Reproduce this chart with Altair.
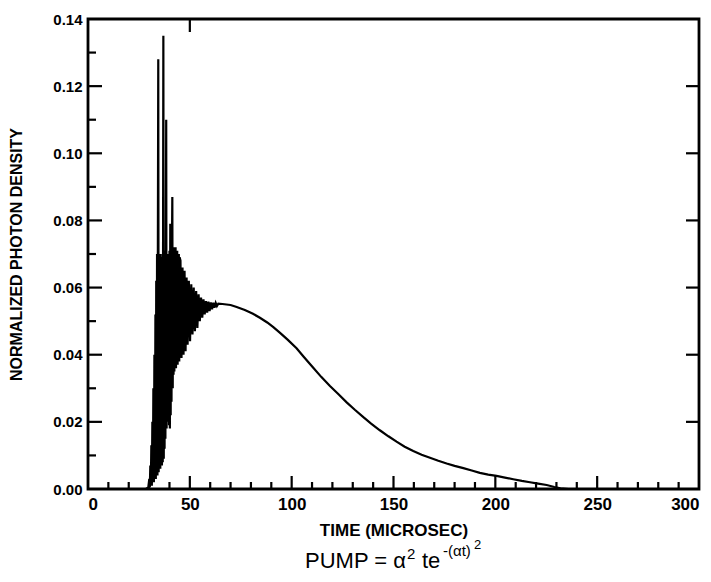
import altair as alt
import pandas as pd

# ---- data ----
time_us = [
    0.0, 28.5, 29.6, 30.1, 30.35, 30.6, 30.85, 31.1, 31.35, 31.6, 31.85, 32.1, 32.35, 32.6, 32.85,
    33.1, 33.3, 33.5, 33.7, 33.9, 34.1, 34.3, 34.5, 34.7, 34.9, 35.1, 35.3, 35.5, 35.7, 35.9,
    36.1, 36.3, 36.5, 36.7, 37.0, 37.2, 37.4, 37.6, 37.8, 38.0, 38.2, 38.4, 38.6, 38.8, 39.0,
    39.2, 39.4, 39.6, 39.8, 40.0, 40.2, 40.4, 40.6, 40.8, 41.0, 41.2, 41.4, 41.6, 41.8, 42.0,
    42.2, 42.4, 42.6, 42.8, 43.0, 43.2, 43.4, 43.6, 43.8, 44.0, 44.2, 44.4, 44.6, 44.8, 45.0,
    45.4, 45.9, 46.4, 46.9, 47.4, 47.9, 48.4, 48.9, 49.5, 50.1, 50.7, 51.3, 51.9, 52.5, 53.1,
    53.7, 54.3, 54.9, 55.5, 56.1, 56.7, 57.3, 57.9, 58.5, 59.1, 59.7, 60.3, 60.9, 61.5, 62.1,
    62.7, 63.3, 64.0, 66.0, 70.0, 73.0, 77.0, 81.0, 84.4, 88.0, 91.0, 94.3, 98.0, 102.4,
    106.0, 110.6, 114.5, 118.8, 123.0, 127.0, 131.0, 135.2, 139.0, 143.3, 147.5, 151.5,
    155.5, 159.7, 163.8, 167.9, 172.0, 176.1, 180.0, 184.3, 188.4, 192.4, 196.5, 200.6,
    204.7, 208.8, 213.0, 217.0, 221.0, 225.2, 229.0, 232.0, 236.0, 300.0,
]
density = [
    0.0, 0.0, 0.0005, 0.003, 0.0005, 0.007, 0.001, 0.013, 0.001, 0.020, 0.002, 0.030, 0.002, 0.040, 0.003,
    0.052, 0.003, 0.062, 0.004, 0.070, 0.004, 0.071, 0.128, 0.005, 0.070, 0.006, 0.069, 0.006, 0.070, 0.007,
    0.068, 0.007, 0.069, 0.008, 0.135, 0.009, 0.070, 0.012, 0.071, 0.015, 0.069, 0.110, 0.018, 0.070, 0.020,
    0.069, 0.021, 0.070, 0.019, 0.071, 0.018, 0.079, 0.022, 0.070, 0.026, 0.071, 0.087, 0.030, 0.070, 0.034,
    0.072, 0.035, 0.070, 0.036, 0.072, 0.036, 0.070, 0.037, 0.071, 0.037, 0.069, 0.038, 0.070, 0.038, 0.069,
    0.068, 0.039, 0.066, 0.040, 0.065, 0.041, 0.063, 0.043, 0.062, 0.044, 0.061, 0.046, 0.060, 0.047, 0.059,
    0.048, 0.058, 0.050, 0.057, 0.051, 0.0565, 0.052, 0.056, 0.0525, 0.0558, 0.053, 0.0556, 0.0535, 0.0555, 0.054,
    0.0554, 0.0545, 0.0552, 0.0551, 0.0548, 0.0542, 0.0533, 0.0522, 0.0510, 0.0496, 0.0482, 0.0465, 0.0445, 0.0419,
    0.0393, 0.0361, 0.0334, 0.0307, 0.0282, 0.0258, 0.0236, 0.0214, 0.0195, 0.0175, 0.0157, 0.0141,
    0.0126, 0.0113, 0.0102, 0.0093, 0.0084, 0.0076, 0.0069, 0.0062, 0.0055, 0.0048, 0.0043, 0.0039,
    0.0034, 0.0029, 0.0024, 0.0020, 0.0016, 0.0012, 0.0006, 0.0002, 0.0, 0.0,
]

x_labels = [0, 50, 100, 150, 200, 250, 300]
y_labels = [0.00, 0.02, 0.04, 0.06, 0.08, 0.10, 0.12, 0.14]
bottom_major = [50, 100, 150, 200, 250]
bottom_minor = [10, 20, 30, 40, 60, 70, 80, 90, 110, 120, 130, 140, 160, 170, 180, 190,
                210, 220, 230, 240, 260, 270, 280, 290]
left_major = [0.02, 0.04, 0.06, 0.08, 0.10, 0.12]
left_minor = [0.01, 0.03, 0.05, 0.07, 0.09, 0.11, 0.13]
right_major = [0.02, 0.04, 0.06, 0.08, 0.10, 0.12]
top_ticks = [50]

x_title = "TIME (MICROSEC)"
y_title = "NORMALIZED PHOTON DENSITY"
formula_parts = ["PUMP = α", "2", "te", "-(αt)", "2"]

W, H = 611, 470
FONT = "Liberation Sans"

xs = alt.Scale(domain=[0, 300], nice=False, zero=False)
ys = alt.Scale(domain=[0, 0.14], nice=False, zero=False)

curve_df = pd.DataFrame({"t": time_us, "n": density, "i": range(len(time_us))})

curve = alt.Chart(curve_df).mark_line(color="black", strokeWidth=2.2, strokeJoin="miter").encode(
    x=alt.X("t:Q", scale=xs, axis=alt.Axis(
        values=x_labels, format="d", ticks=False, tickSize=0, domain=False, grid=False,
        labelFont=FONT, labelFontSize=17, labelFontWeight="bold", labelColor="black",
        labelPadding=7, title=x_title, titleFont=FONT, titleFontSize=17, titleFontWeight="bold",
        titleColor="black", titleX=W / 2, titleY=41, titleBaseline="middle", titleAlign="center")),
    y=alt.Y("n:Q", scale=ys, axis=alt.Axis(
        values=y_labels, format=".2f", ticks=False, tickSize=0, domain=False, grid=False,
        labelFont=FONT, labelFontSize=15, labelFontWeight="bold", labelColor="black",
        labelPadding=6, title=y_title, titleFont=FONT, titleFontSize=16, titleFontWeight="bold",
        titleColor="black", titleX=-72, titleY=H / 2, titleAngle=270, titleBaseline="middle",
        titleAlign="center")),
    order="i:O",
)

TW = 2.2

def xticks(vals, length):
    return alt.Chart(pd.DataFrame({"v": vals})).mark_rule(color="black", strokeWidth=TW).encode(
        x=alt.X("v:Q", scale=xs), y=alt.value(H), y2=alt.value(H - length))

def topticks(vals, length):
    return alt.Chart(pd.DataFrame({"v": vals})).mark_rule(color="black", strokeWidth=TW).encode(
        x=alt.X("v:Q", scale=xs), y=alt.value(0), y2=alt.value(length))

def lticks(vals, length):
    return alt.Chart(pd.DataFrame({"v": vals})).mark_rule(color="black", strokeWidth=TW).encode(
        y=alt.Y("v:Q", scale=ys), x=alt.value(0), x2=alt.value(length))

def rticks(vals, length):
    return alt.Chart(pd.DataFrame({"v": vals})).mark_rule(color="black", strokeWidth=TW).encode(
        y=alt.Y("v:Q", scale=ys), x=alt.value(W), x2=alt.value(W - length))

def ftext(s, px, py, size, weight="normal"):
    return alt.Chart(pd.DataFrame({"s": [s]})).mark_text(
        font=FONT, fontSize=size, fontWeight=weight, color="black", align="left",
        baseline="alphabetic").encode(text="s:N", x=alt.value(px), y=alt.value(py))

BASE = 549
formula = [
    ftext(formula_parts[0], 217, BASE, 22),
    ftext(formula_parts[1], 319, BASE - 9, 15),
    ftext(formula_parts[2], 334, BASE, 22),
    ftext(formula_parts[3], 355, BASE - 12, 15),
    ftext(formula_parts[4], 386, BASE - 19, 13),
]

chart = alt.layer(
    curve,
    xticks(bottom_major, 13), xticks(bottom_minor, 7),
    topticks(top_ticks, 13),
    lticks(left_major, 14), lticks(left_minor, 8),
    rticks(right_major, 13),
    *formula,
).properties(
    width=W, height=H,
    background="white",
    autosize=alt.AutoSizeParams(type="none"),
    padding={"left": 80, "top": 11, "right": 4, "bottom": 90},
).configure_view(stroke="black", strokeWidth=2.8)

chart.save("out.html", embed_options={"renderer": "svg", "actions": False})
